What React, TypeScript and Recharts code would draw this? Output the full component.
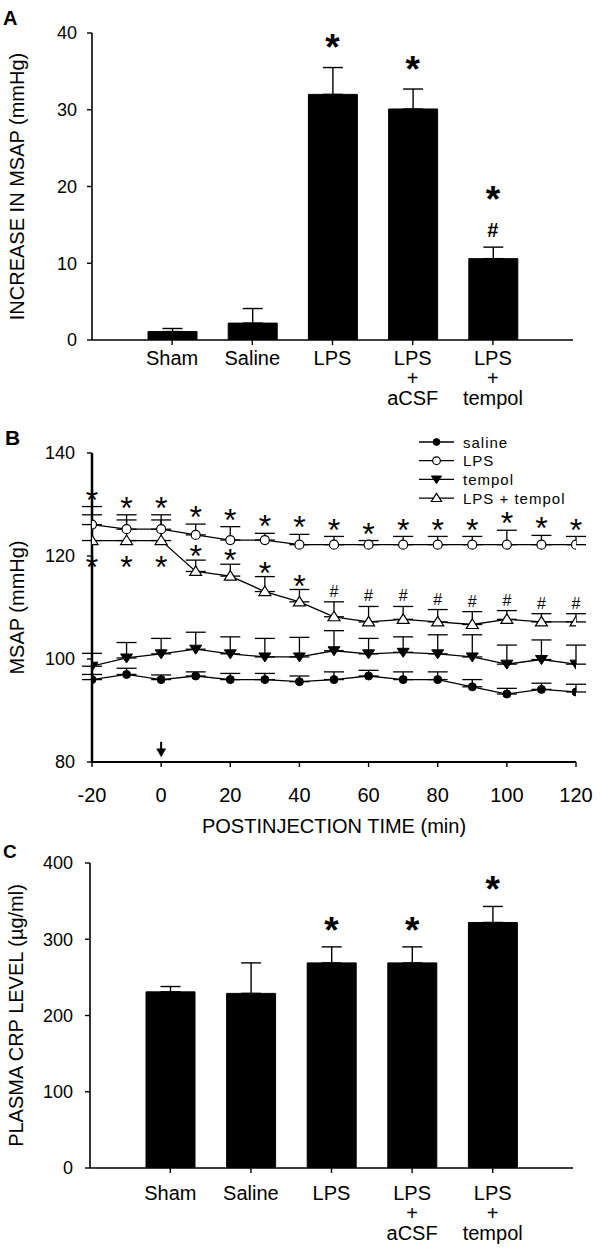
import React from 'react';
import {
  ComposedChart,
  LineChart,
  Bar,
  Line,
  XAxis,
  YAxis,
  ErrorBar,
  LabelList,
  Label,
  Legend,
} from 'recharts';

const FONT = '"Liberation Sans", Arial, Helvetica, sans-serif';

// ---------- Panel A: increase in MSAP ----------
const groups = ['Sham', 'Saline', 'LPS', 'LPS\n+\naCSF', 'LPS\n+\ntempol'];
const msapIncrease = [1.1, 2.2, 32.0, 30.1, 10.6];
const msapIncreaseSem = [0.4, 1.9, 3.5, 2.6, 1.5];
const msapMarks = ['', '', '*', '*', '*#'];
const msapTicks = [0, 10, 20, 30, 40];

// ---------- Panel B: MSAP time course ----------
const times = [-20, -10, 0, 10, 20, 30, 40, 50, 60, 70, 80, 90, 100, 110, 120];
const timeTicks = [-20, 0, 20, 40, 60, 80, 100, 120];
const msapTicksB = [80, 100, 120, 140];
const salineMsap = [96.0, 97.0, 96.0, 96.7, 96.0, 96.0, 95.6, 96.0, 96.7, 96.0, 96.0, 94.6, 93.2, 94.1, 93.6];
const salineSem = [1.0, 1.2, 0.9, 0.8, 1.2, 1.2, 1.1, 1.5, 1.1, 1.5, 1.5, 1.4, 1.1, 1.2, 1.5];
const lpsMsap = [126.1, 125.2, 125.2, 124.1, 123.1, 123.1, 122.2, 122.2, 122.2, 122.2, 122.2, 122.2, 122.2, 122.2, 122.2];
const lpsSem = [3.5, 2.8, 2.8, 2.1, 2.6, 1.3, 2.0, 1.6, 0.8, 1.6, 1.6, 1.6, 2.8, 1.8, 1.6];
const tempolMsap = [98.6, 100.2, 101.0, 101.9, 101.0, 100.4, 100.4, 101.6, 101.0, 101.3, 101.0, 100.4, 99.0, 99.9, 99.0];
const tempolSem = [2.5, 3.0, 3.0, 3.3, 3.3, 3.6, 3.8, 3.9, 3.0, 3.0, 3.7, 4.3, 3.7, 3.8, 3.7];
const lpsTempolMsap = [123.0, 123.0, 123.0, 117.0, 116.1, 113.1, 111.1, 108.2, 107.2, 107.7, 107.2, 106.7, 107.7, 107.2, 107.2];
const lpsTempolSem = [5.0, 4.0, 4.0, 2.2, 2.3, 2.9, 2.4, 2.9, 3.0, 2.5, 2.4, 2.5, 1.7, 1.6, 1.6];
const lpsMarks = ['*', '*', '*', '*', '*', '*', '*', '*', '*', '*', '*', '*', '*', '*', '*'];
const lpsTempolMarksAbove = ['', '', '', '*', '*', '*', '*', '#', '#', '#', '#', '#', '#', '#', '#'];
const lpsTempolMarksBelow = ['*', '*', '*', '', '', '', '', '', '', '', '', '', '', '', ''];
const seriesNames = ['saline', 'LPS', 'tempol', 'LPS + tempol'];
const injectionTime = 0;
const injectionArrowTip = 81.0;

// ---------- Panel C: plasma CRP ----------
const crpLevel = [231, 229, 269, 269, 322];
const crpSem = [7, 40, 21, 21, 21];
const crpMarks = ['', '', '*', '*', '*'];
const crpTicks = [0, 100, 200, 300, 400];

// ---------- derived tables ----------
const rowsA = groups.map((g, i) => ({
  g,
  v: msapIncrease[i],
  e: [0, msapIncreaseSem[i]],
  top: msapIncrease[i] + msapIncreaseSem[i],
  mark: msapMarks[i],
}));

const rowsC = groups.map((g, i) => ({
  g,
  v: crpLevel[i],
  e: [0, crpSem[i]],
  top: crpLevel[i] + crpSem[i],
  mark: crpMarks[i],
}));

const rowsB = times.map((t, i) => ({
  t,
  saline: salineMsap[i],
  salineE: [0, salineSem[i]],
  lps: lpsMsap[i],
  lpsE: [0, lpsSem[i]],
  lpsTop: lpsMsap[i] + lpsSem[i],
  lpsMark: lpsMarks[i],
  tempol: tempolMsap[i],
  tempolE: [0, tempolSem[i]],
  lt: lpsTempolMsap[i],
  ltE: [0, lpsTempolSem[i]],
  ltTop: lpsTempolMsap[i] + lpsTempolSem[i],
  ltMarkAbove: lpsTempolMarksAbove[i],
  ltMarkBelow: lpsTempolMarksBelow[i],
  arrowTip: t === injectionTime ? injectionArrowTip : null,
}));

// ---------- helpers ----------
const getXY = (p: any) => {
  const vb = p.viewBox || {};
  const x = p.x != null ? p.x : vb.x;
  const y = p.y != null ? p.y : vb.y;
  return { x, y };
};

const XTickCat = (first: number, gap: number) => (props: any) => {
  const { x, y, payload } = props;
  const lines = String(payload.value).split('\n');
  return (
    <text x={x} y={y + first} textAnchor="middle" fontSize={20} fill="#000" fontFamily={FONT}>
      {lines.map((ln: string, i: number) => (
        <tspan key={i} x={x} dy={i === 0 ? 0 : gap}>
          {ln}
        </tspan>
      ))}
    </text>
  );
};

const XTickNum = (props: any) => {
  const { x, y, payload } = props;
  return (
    <text x={x} y={y + 35} textAnchor="middle" fontSize={20} fill="#000" fontFamily={FONT}>
      {payload.value}
    </text>
  );
};

const YTick = (props: any) => {
  const { x, y, payload } = props;
  return (
    <text x={x} y={y} dy="0.36em" textAnchor="end" fontSize={18} fill="#000" fontFamily={FONT}>
      {payload.value}
    </text>
  );
};

const YTitle = (text: string, cx: number) => (props: any) => {
  const vb = props.viewBox || {};
  const cy = vb.y + vb.height / 2;
  return (
    <text
      x={cx}
      y={cy}
      transform={`rotate(-90 ${cx} ${cy})`}
      textAnchor="middle"
      dominantBaseline="central"
      fontSize={20}
      fill="#000"
      fontFamily={FONT}
    >
      {text}
    </text>
  );
};

const BigMark = (gap: number) => (props: any) => {
  const { x, y } = getXY(props);
  const m = String(props.value || '');
  if (!m) return null;
  const star = 37;
  if (m === '*#') {
    return (
      <g>
        <text x={x} y={y - 56 + star * 0.565} textAnchor="middle" fontSize={star} fontWeight="bold" fill="#000" fontFamily={FONT}>
          *
        </text>
        <text x={x} y={y - 17 + 7} textAnchor="middle" fontSize={20} fontWeight="bold" fill="#000" fontFamily={FONT}>
          #
        </text>
      </g>
    );
  }
  return (
    <text x={x} y={y - gap + star * 0.565} textAnchor="middle" fontSize={star} fontWeight="bold" fill="#000" fontFamily={FONT}>
      {m}
    </text>
  );
};

const SmallMark = (offset: number) => (props: any) => {
  const { x, y } = getXY(props);
  const m = String(props.value || '');
  if (!m) return null;
  const cy = y + offset;
  if (m === '#') {
    return (
      <text x={x} y={cy + 6} textAnchor="middle" fontSize={16} fill="#000" fontFamily={FONT}>
        #
      </text>
    );
  }
  const fs = 32;
  return (
    <text x={x} y={cy + fs * 0.565} textAnchor="middle" fontSize={fs} fill="#000" fontFamily={FONT}>
      {m}
    </text>
  );
};

const marker = (kind: string, cx: number, cy: number, s = 1, key?: any) => {
  if (kind === 'saline') {
    return <circle key={key} cx={cx} cy={cy} r={4 * s} fill="#000" stroke="#000" strokeWidth={1} />;
  }
  if (kind === 'LPS') {
    return <circle key={key} cx={cx} cy={cy} r={4.5 * s} fill="#fff" stroke="#000" strokeWidth={1.2} />;
  }
  if (kind === 'tempol') {
    return (
      <path
        key={key}
        d={`M${cx - 6 * s},${cy - 4 * s} L${cx + 6 * s},${cy - 4 * s} L${cx},${cy + 5 * s} Z`}
        fill="#000"
        stroke="#000"
        strokeWidth={1}
      />
    );
  }
  return (
    <path
      key={key}
      d={`M${cx},${cy - 5.5 * s} L${cx + 6 * s},${cy + 4 * s} L${cx - 6 * s},${cy + 4 * s} Z`}
      fill="#fff"
      stroke="#000"
      strokeWidth={1.2}
    />
  );
};

const dotFor = (kind: string) => (p: any) => marker(kind, p.cx, p.cy, 1, `${kind}-${p.index}`);

const ArrowDot = (p: any) => {
  const { cx, cy, index } = p;
  if (cx == null || cy == null || p.value == null || Number.isNaN(cy)) return <g key={`arrow-${index}`} />;
  return (
    <g key={`arrow-${index}`}>
      <line x1={cx} y1={cy - 15} x2={cx} y2={cy - 6} stroke="#000" strokeWidth={2} />
      <path d={`M${cx - 4.5},${cy - 8} L${cx + 4.5},${cy - 8} L${cx},${cy} Z`} fill="#000" stroke="#000" strokeWidth={0.5} />
    </g>
  );
};

const LegendBox = (props: any) => {
  const items = (props.payload || [])
    .filter((p: any) => seriesNames.includes(p.value))
    .sort((a: any, b: any) => seriesNames.indexOf(a.value) - seriesNames.indexOf(b.value));
  return (
    <svg width={190} height={82} style={{ display: 'block', overflow: 'visible' }}>
      {items.map((it: any, i: number) => {
        const cy = 10 + i * 18.7;
        return (
          <g key={i}>
            <line x1={4} x2={39} y1={cy} y2={cy} stroke="#000" strokeWidth={1.3} />
            {marker(it.value, 21.5, cy, 0.85)}
            <text x={48} y={cy + 5.5} fontSize={15} letterSpacing={1} fill="#000" fontFamily={FONT}>
              {it.value}
            </text>
          </g>
        );
      })}
    </svg>
  );
};

const axisLine = { stroke: '#000', strokeWidth: 1.6 };
const tickLine = { stroke: '#000', strokeWidth: 1.4 };

export default function App() {
  return (
    <div
      style={{
        position: 'absolute',
        left: 0,
        top: 0,
        width: 600,
        height: 1253,
        background: '#fff',
        fontFamily: FONT,
        overflow: 'hidden',
      }}
    >
      {/* Panel A */}
      <div style={{ position: 'absolute', left: 0, top: 0 }}>
        <ComposedChart width={600} height={412} data={rowsA} margin={{ top: 33, right: 27, bottom: 0, left: 0 }}>
          <XAxis
            dataKey="g"
            type="category"
            padding={{ left: 40, right: 40 }}
            height={72}
            axisLine={axisLine}
            tickLine={tickLine}
            tickSize={5}
            tickMargin={0}
            interval={0}
            tick={XTickCat(20, 20)}
          />
          <YAxis
            type="number"
            domain={[0, 40]}
            ticks={msapTicks}
            allowDataOverflow
            width={92}
            axisLine={axisLine}
            tickLine={tickLine}
            tickSize={5}
            tickMargin={10}
            tick={YTick}
          >
            <Label content={YTitle('INCREASE IN MSAP (mmHg)', 17)} />
          </YAxis>
          <Bar dataKey="v" fill="#000" stroke="#000" barSize={49} isAnimationActive={false}>
            <ErrorBar dataKey="e" width={10} stroke="#000" strokeWidth={1.4} direction="y" />
          </Bar>
          <Line dataKey="top" stroke="none" dot={false} activeDot={false} legendType="none" isAnimationActive={false}>
            <LabelList dataKey="mark" content={BigMark(28)} />
          </Line>
        </ComposedChart>
      </div>

      {/* Panel B */}
      <div style={{ position: 'absolute', left: 0, top: 412 }}>
        <LineChart width={600} height={430} data={rowsB} margin={{ top: 41, right: 24, bottom: 0, left: 0 }}>
          <XAxis
            dataKey="t"
            type="number"
            domain={[-20, 120]}
            ticks={timeTicks}
            allowDataOverflow
            height={80}
            axisLine={{ stroke: '#000', strokeWidth: 2 }}
            tickLine={tickLine}
            tickSize={5}
            tickMargin={0}
            tick={XTickNum}
          >
            <Label
              content={(p: any) => {
                const vb = p.viewBox || {};
                return (
                  <text x={vb.x + vb.width / 2} y={vb.y + 71} textAnchor="middle" fontSize={20} fill="#000" fontFamily={FONT}>
                    POSTINJECTION TIME (min)
                  </text>
                );
              }}
            />
          </XAxis>
          <YAxis
            type="number"
            domain={[80, 140]}
            ticks={msapTicksB}
            allowDataOverflow
            width={92}
            axisLine={{ stroke: '#000', strokeWidth: 2.5 }}
            tickLine={tickLine}
            tickSize={5}
            tickMargin={12}
            tick={YTick}
          >
            <Label content={YTitle('MSAP (mmHg)', 17)} />
          </YAxis>
          <Legend
            layout="vertical"
            align="center"
            verticalAlign="middle"
            wrapperStyle={{ left: 415, top: 20, width: 190, height: 82, right: 'auto', bottom: 'auto' }}
            content={LegendBox}
          />
          <Line
            dataKey="arrowTip"
            stroke="none"
            dot={ArrowDot}
            activeDot={false}
            legendType="none"
            isAnimationActive={false}
          />
          <Line
            name={seriesNames[0]}
            dataKey="saline"
            stroke="#000"
            strokeWidth={1.3}
            dot={dotFor('saline')}
            activeDot={false}
            isAnimationActive={false}
          >
            <ErrorBar dataKey="salineE" width={10} stroke="#000" strokeWidth={1.3} direction="y" />
          </Line>
          <Line
            name={seriesNames[1]}
            dataKey="lps"
            stroke="#000"
            strokeWidth={1.3}
            dot={dotFor('LPS')}
            activeDot={false}
            isAnimationActive={false}
          >
            <ErrorBar dataKey="lpsE" width={10} stroke="#000" strokeWidth={1.3} direction="y" />
          </Line>
          <Line
            name={seriesNames[2]}
            dataKey="tempol"
            stroke="#000"
            strokeWidth={1.3}
            dot={dotFor('tempol')}
            activeDot={false}
            isAnimationActive={false}
          >
            <ErrorBar dataKey="tempolE" width={10} stroke="#000" strokeWidth={1.3} direction="y" />
          </Line>
          <Line
            name={seriesNames[3]}
            dataKey="lt"
            stroke="#000"
            strokeWidth={1.3}
            dot={dotFor('LPS + tempol')}
            activeDot={false}
            isAnimationActive={false}
          >
            <ErrorBar dataKey="ltE" width={10} stroke="#000" strokeWidth={1.3} direction="y" />
            <LabelList dataKey="ltMarkBelow" content={SmallMark(19)} />
          </Line>
          <Line dataKey="lpsTop" stroke="none" dot={false} activeDot={false} legendType="none" isAnimationActive={false}>
            <LabelList dataKey="lpsMark" content={SmallMark(-14)} />
          </Line>
          <Line dataKey="ltTop" stroke="none" dot={false} activeDot={false} legendType="none" isAnimationActive={false}>
            <LabelList dataKey="ltMarkAbove" content={SmallMark(-11)} />
          </Line>
        </LineChart>
      </div>

      {/* Panel C */}
      <div style={{ position: 'absolute', left: 0, top: 842 }}>
        <ComposedChart width={600} height={411} data={rowsC} margin={{ top: 21, right: 27, bottom: 0, left: 0 }}>
          <XAxis
            dataKey="g"
            type="category"
            padding={{ left: 40, right: 40 }}
            height={85}
            axisLine={axisLine}
            tickLine={tickLine}
            tickSize={5}
            tickMargin={0}
            interval={0}
            tick={XTickCat(27, 20)}
          />
          <YAxis
            type="number"
            domain={[0, 400]}
            ticks={crpTicks}
            allowDataOverflow
            width={90}
            axisLine={axisLine}
            tickLine={tickLine}
            tickSize={5}
            tickMargin={12}
            tick={YTick}
          >
            <Label content={YTitle('PLASMA CRP LEVEL (µg/ml)', 16)} />
          </YAxis>
          <Bar dataKey="v" fill="#000" stroke="#000" barSize={49} isAnimationActive={false}>
            <ErrorBar dataKey="e" width={10} stroke="#000" strokeWidth={1.4} direction="y" />
          </Bar>
          <Line dataKey="top" stroke="none" dot={false} activeDot={false} legendType="none" isAnimationActive={false}>
            <LabelList dataKey="mark" content={BigMark(25)} />
          </Line>
        </ComposedChart>
      </div>

      {/* Panel letters */}
      <svg width={600} height={1253} style={{ position: 'absolute', left: 0, top: 0, pointerEvents: 'none' }}>
        <text x={3} y={25} fontSize={20} fontWeight={900} fill="#000" fontFamily={FONT}>
          A
        </text>
        <text x={5} y={445} fontSize={21} fontWeight={900} fill="#000" fontFamily={FONT}>
          B
        </text>
        <text x={3} y={858} fontSize={19} fontWeight={900} fill="#000" fontFamily={FONT}>
          C
        </text>
      </svg>
    </div>
  );
}
